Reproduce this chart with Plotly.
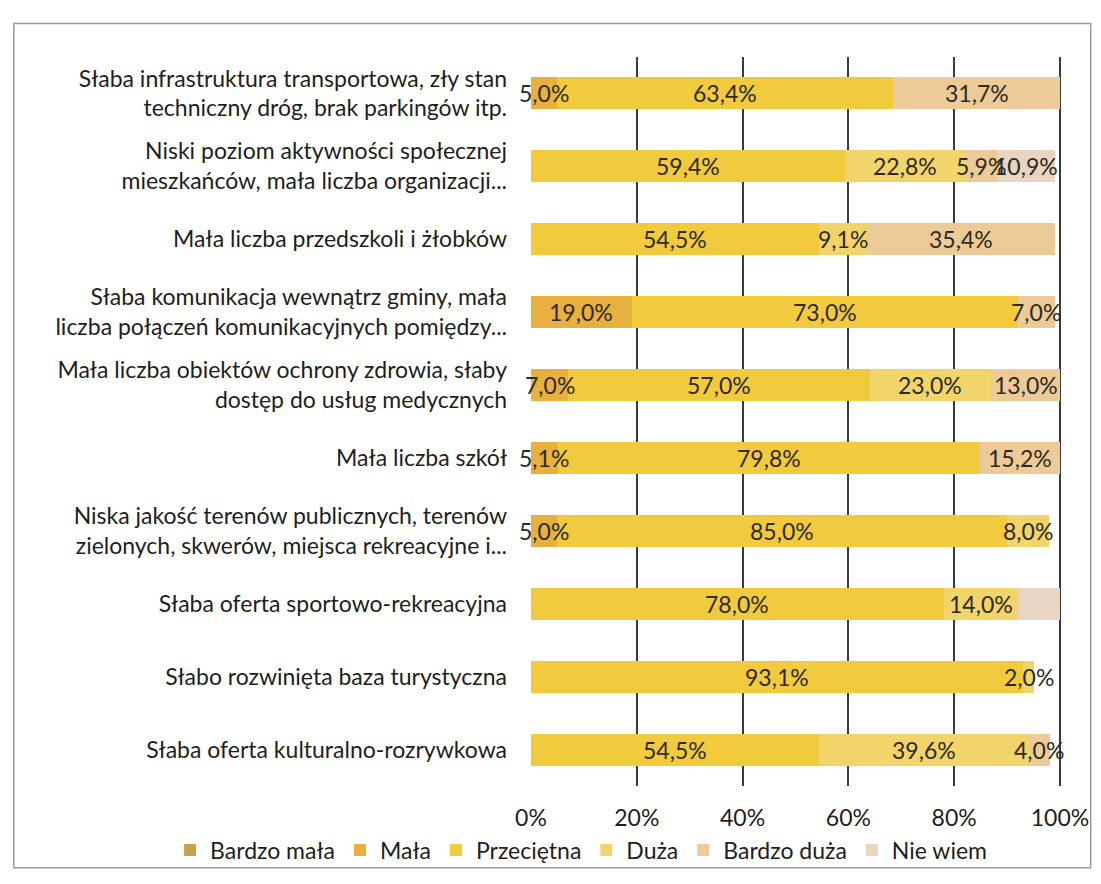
import plotly.graph_objects as go

categories = [
    "Słaba infrastruktura transportowa, zły stan<br>techniczny dróg, brak parkingów itp.",
    "Niski poziom aktywności społecznej<br>mieszkańców, mała liczba organizacji...",
    "Mała liczba przedszkoli i żłobków",
    "Słaba komunikacja wewnątrz gminy, mała<br>liczba połączeń komunikacyjnych pomiędzy...",
    "Mała liczba obiektów ochrony zdrowia, słaby<br>dostęp do usług medycznych",
    "Mała liczba szkół",
    "Niska jakość terenów publicznych, terenów<br>zielonych, skwerów, miejsca rekreacyjne i...",
    "Słaba oferta sportowo-rekreacyjna",
    "Słabo rozwinięta baza turystyczna",
    "Słaba oferta kulturalno-rozrywkowa",
]

series_names = ["Bardzo mała", "Mała", "Przeciętna", "Duża", "Bardzo duża", "Nie wiem"]

bardzo_mala = [0, 0, 0, 0, 0, 0, 0, 0, 0, 0]
mala = [5.0, 0, 0, 19.0, 7.0, 5.1, 5.0, 0, 0, 0]
przecietna = [63.4, 59.4, 54.5, 73.0, 57.0, 79.8, 85.0, 78.0, 93.1, 54.5]
duza = [0, 22.8, 9.1, 0, 23.0, 0, 8.0, 14.0, 2.0, 39.6]
bardzo_duza = [31.7, 5.9, 35.4, 7.0, 13.0, 15.2, 0, 0, 0, 4.0]
nie_wiem = [0, 10.9, 0, 0, 0, 0, 0, 8.0, 0, 0]
# segments visible in the picture but printed without a value label
nie_wiem_unlabeled = [False, False, False, False, False, False, False, True, False, False]

series_values = [bardzo_mala, mala, przecietna, duza, bardzo_duza, nie_wiem]
colors = ["#c9a24c", "#e8b03e", "#f2ca3e", "#f1d46a", "#eccb98", "#e8d5c2"]

x_ticks = [0, 20, 40, 60, 80, 100]
x_ticklabels = ["0%", "20%", "40%", "60%", "80%", "100%"]

FONT = "Lato, 'Open Sans', sans-serif"
FS = 23

fig = go.Figure()
for name, vals, col in zip(series_names, series_values, colors):
    fig.add_trace(go.Bar(
        name=name, y=categories, x=vals, orientation="h",
        marker=dict(color=col, line=dict(width=0)),
        hoverinfo="x+name",
    ))

# value labels drawn on top of all bars
annotations = []
cum = [0.0] * len(categories)
for si, vals in enumerate(series_values):
    for i, v in enumerate(vals):
        if v > 0:
            hidden = (si == 5 and nie_wiem_unlabeled[i])
            if not hidden:
                annotations.append(dict(
                    x=cum[i] + v / 2, y=categories[i], xref="x", yref="y",
                    text=f"{v:.1f}".replace(".", ",") + "%", showarrow=False,
                    font=dict(family=FONT, size=FS, color="#2e2a20"),
                    xanchor="center", yanchor="middle"))
            cum[i] += v

L, R, T, B = 531, 34, 57, 87
W, H = 1101, 884
pw = W - L - R
ph = H - T - B

fig.update_layout(
    width=W, height=H,
    barmode="stack", bargap=0.56,
    margin=dict(l=L, r=R, t=T, b=B),
    paper_bgcolor="white", plot_bgcolor="white",
    font=dict(family=FONT, size=FS, color="#1e1e1e"),
    showlegend=True,
    annotations=annotations,
    legend=dict(orientation="h", x=(166 - L) / pw, xanchor="left",
                y=-(862 - (T + ph)) / ph, yanchor="middle",
                font=dict(family=FONT, size=FS, color="#1e1e1e"),
                traceorder="normal", itemwidth=30, bgcolor="rgba(0,0,0,0)"),
    xaxis=dict(range=[0, 100.2], tickvals=x_ticks, ticktext=x_ticklabels,
               showgrid=True, gridcolor="#3a3a3a", gridwidth=1.5,
               zeroline=False, showline=False, ticks="",
               ticklabelstandoff=16,
               tickfont=dict(family=FONT, size=FS, color="#1e1e1e"), fixedrange=True),
    yaxis=dict(autorange="reversed", showgrid=False, zeroline=False, ticks="",
               automargin=False, ticklabelstandoff=23,
               tickfont=dict(family=FONT, size=FS, color="#1e1e1e")),
    shapes=[dict(type="rect", xref="paper", yref="paper",
                 x0=(8 - L) / pw, x1=(1097 - L) / pw,
                 y0=-(880 - (T + ph)) / ph, y1=(T + ph - 23) / ph,
                 line=dict(color="#9a9a9a", width=1.5), fillcolor="rgba(0,0,0,0)",
                 layer="below")],
)

fig.write_html("out.html", config={"displayModeBar": False},
               post_script="document.body.style.margin='0';document.body.style.overflow='hidden';")
